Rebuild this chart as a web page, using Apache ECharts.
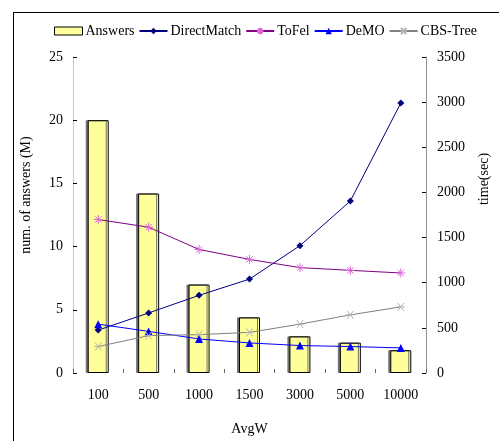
<!DOCTYPE html>
<html>
<head>
<meta charset="utf-8">
<script src="https://cdn.jsdelivr.net/npm/echarts@6/dist/echarts.min.js"></script>
<style>
  html, body { margin: 0; padding: 0; background: #fff; }
  #chart { width: 499px; height: 441px; }
</style>
</head>
<body>
<div id="chart"></div>
<script>
// Average window size categories
const categories = ['100', '500', '1000', '1500', '3000', '5000', '10000'];
// Number of answers (millions), left axis
const answers = [20, 14.2, 7, 4.4, 2.9, 2.4, 1.8];
// Running times (seconds), right axis
const directMatch = [475, 665, 860, 1040, 1410, 1905, 2990];
const toFel = [1700, 1615, 1368, 1258, 1167, 1137, 1108];
const deMO = [541, 461, 377, 333, 304, 293, 278];
const cbsTree = [293, 414, 425, 450, 541, 644, 732];

const FONT = 'Liberation Serif';
const asterisk = 'path://M0,5L10,5M5,0L5,10M1.5,1.5L8.5,8.5M8.5,1.5L1.5,8.5';
const cross = 'path://M1,1L9,9M9,1L1,9M0,5L10,5';

const chart = echarts.init(document.getElementById('chart'), null, { renderer: 'canvas' });

chart.setOption({
  animation: false,
  backgroundColor: '#fff',
  textStyle: { fontFamily: FONT, color: '#000' },
  graphic: [
    { type: 'line', shape: { x1: 13, y1: 12.5, x2: 499, y2: 12.5 }, style: { stroke: '#000', lineWidth: 1 } },
    { type: 'line', shape: { x1: 13.5, y1: 12, x2: 13.5, y2: 441 }, style: { stroke: '#000', lineWidth: 1 } }
  ],
  legend: {
    left: 49,
    top: 19,
    itemGap: 4,
    itemWidth: 28,
    itemHeight: 8,
    textStyle: { fontFamily: FONT, fontSize: 14, color: '#000', padding: [0, 0, 0, -2] },
    data: [
      {
        name: 'Answers',
        icon: 'rect',
        itemStyle: { color: '#ffff99', borderColor: '#000', borderWidth: 1, shadowColor: 'rgba(0,0,0,0)', shadowBlur: 0, shadowOffsetX: 0, shadowOffsetY: 0 }
      },
      'DirectMatch',
      'ToFel',
      'DeMO',
      'CBS-Tree'
    ]
  },
  grid: { left: 73, right: 63, top: 57, bottom: 65 },
  xAxis: {
    type: 'category',
    data: categories,
    name: 'AvgW',
    nameLocation: 'middle',
    nameGap: 49,
    nameTextStyle: { fontFamily: FONT, fontSize: 14, color: '#000' },
    axisLine: { show: false },
    axisTick: { show: true, inside: true, length: 4, lineStyle: { color: '#666' } },
    axisLabel: { fontFamily: FONT, fontSize: 14, color: '#000', margin: 15 }
  },
  yAxis: [
    {
      type: 'value',
      min: 0, max: 25, interval: 5,
      name: 'num. of answers (M)',
      nameLocation: 'middle',
      nameRotate: 90,
      nameGap: 40,
      nameTextStyle: { fontFamily: FONT, fontSize: 14, color: '#000', padding: [0, 0, 0, 40] },
      axisLine: { show: true, lineStyle: { color: '#c8c8c8', width: 1 } },
      axisTick: { show: true, inside: true, length: 4, lineStyle: { color: '#000' } },
      axisLabel: { fontFamily: FONT, fontSize: 14, color: '#000', margin: 10 },
      splitLine: { show: false }
    },
    {
      type: 'value',
      min: 0, max: 3500, interval: 500,
      name: 'time(sec)',
      nameLocation: 'middle',
      nameRotate: 90,
      nameGap: 51,
      nameTextStyle: { fontFamily: FONT, fontSize: 14, color: '#000', padding: [0, 0, 0, 72] },
      axisLine: { show: true, lineStyle: { color: '#909090', width: 1 } },
      axisTick: { show: true, inside: true, length: 4, lineStyle: { color: '#000' } },
      axisLabel: { fontFamily: FONT, fontSize: 14, color: '#000', margin: 11, formatter: v => String(v) },
      splitLine: { show: false }
    }
  ],
  series: [
    {
      name: 'Answers',
      type: 'bar',
      yAxisIndex: 0,
      data: answers,
      barWidth: 21,
      itemStyle: {
        color: '#ffff99',
        borderColor: '#000',
        borderWidth: 1,
        shadowColor: '#707070',
        shadowBlur: 0,
        shadowOffsetX: -2,
        shadowOffsetY: 0
      },
      z: 1
    },
    {
      name: 'DirectMatch',
      type: 'line',
      yAxisIndex: 1,
      data: directMatch,
      symbol: 'diamond',
      symbolSize: 7,
      lineStyle: { color: '#000080', width: 1 },
      itemStyle: { color: '#000080' },
      z: 3
    },
    {
      name: 'ToFel',
      type: 'line',
      yAxisIndex: 1,
      data: toFel,
      symbol: asterisk,
      symbolSize: 9,
      lineStyle: { color: '#800080', width: 1 },
      itemStyle: { color: 'transparent', borderColor: '#dd66dd', borderWidth: 1 },
      z: 3
    },
    {
      name: 'DeMO',
      type: 'line',
      yAxisIndex: 1,
      data: deMO,
      symbol: 'triangle',
      symbolSize: 8,
      lineStyle: { color: '#0000ff', width: 1 },
      itemStyle: { color: '#0000ff' },
      z: 3
    },
    {
      name: 'CBS-Tree',
      type: 'line',
      yAxisIndex: 1,
      data: cbsTree,
      symbol: cross,
      symbolSize: 8,
      lineStyle: { color: '#808080', width: 1 },
      itemStyle: { color: 'transparent', borderColor: '#b0b0b0', borderWidth: 1 },
      z: 3
    }
  ]
});
</script>
</body>
</html>
